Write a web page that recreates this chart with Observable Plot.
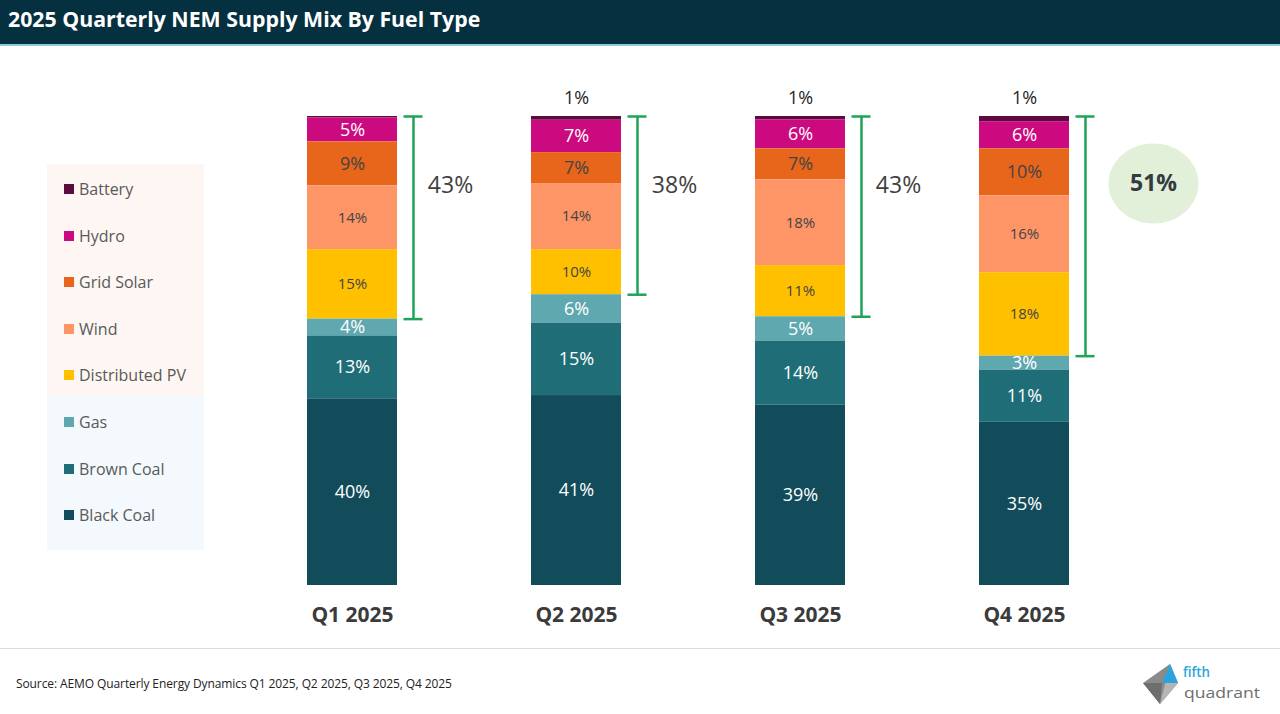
<!DOCTYPE html>
<html>
<head>
<meta charset="utf-8">
<script src="https://cdn.jsdelivr.net/npm/d3@7"></script>
<script src="https://cdn.jsdelivr.net/npm/@observablehq/plot@0.6"></script>
<style>
  body { margin: 0; background: #fff; font-family: "Open Sans", sans-serif; }
  #page { position: relative; width: 1280px; height: 714px; overflow: hidden; background: #fff; }
  #titlebar { position: absolute; left: 0; top: 0; width: 1280px; height: 44px; background: #05303f; border-bottom: 2px solid #8ccbdc; }
  #titlebar h1 { margin: 0; position: absolute; left: 8px; top: 5px; font-size: 21.3px; line-height: 28px; font-weight: 700; color: #fff; letter-spacing: 0; }
  #chart { position: absolute; left: 0; top: 46px; }
  #legend { position: absolute; left: 47px; top: 164px; width: 157px; height: 386px; }
  #legend .bgTop { position: absolute; left: 0; top: 0; width: 157px; height: 232px; background: #fdf6f3; }
  #legend .bgBottom { position: absolute; left: 0; top: 232px; width: 157px; height: 154px; background: #f4f9fd; }
  #legend .item { position: absolute; left: 17px; height: 20px; display: flex; align-items: center; font-size: 16px; color: #595959; white-space: nowrap; }
  #legend .sw { width: 10px; height: 10px; margin-right: 5px; flex: none; }
  #footerline { position: absolute; left: 0; top: 648px; width: 1280px; height: 1px; background: #dcdcdc; }
  #source { position: absolute; left: 16px; top: 675px; font-size: 12px; color: #222; letter-spacing: -0.1px; }
  #logo { position: absolute; left: 1140px; top: 660px; }
  #chart svg [aria-label="x-axis tick label"] text { font-weight: 700; }
</style>
</head>
<body>
<div id="page">
  <div id="titlebar"><h1>2025 Quarterly NEM Supply Mix By Fuel Type</h1></div>
  <div id="chart"></div>
  <div id="legend"><div class="bgTop"></div><div class="bgBottom"></div></div>
  <div id="footerline"></div>
  <div id="source">Source: AEMO Quarterly Energy Dynamics Q1 2025, Q2 2025, Q3 2025, Q4 2025</div>
  <svg id="logo" width="125" height="50" viewBox="0 0 125 50">
    <polygon points="30,4 38,23 20,44 3,23" fill="#8a8a8a"/>
    <polygon points="30,4 38,23 20,44" fill="#b5b5b5"/>
    <polygon points="30,4 38,23 22,23" fill="#2aa4dc"/>
    <polygon points="3,23 22,23 20,44" fill="#6e6e6e"/>
    <text x="43" y="17" font-family="Open Sans" font-size="15" font-weight="600" fill="#2aa4dc" textLength="27" lengthAdjust="spacingAndGlyphs">fifth</text>
    <text x="44" y="38" font-family="Open Sans" font-size="15" fill="#6d6d6d" textLength="76" lengthAdjust="spacingAndGlyphs">quadrant</text>
  </svg>
</div>
<script>
// ---- data (shares of NEM supply, %) ----
const quarters = ["Q1 2025", "Q2 2025", "Q3 2025", "Q4 2025"];
const fuels = ["Battery", "Hydro", "Grid Solar", "Wind", "Distributed PV", "Gas", "Brown Coal", "Black Coal"];
const fuelColors = ["#5c0b3e", "#cc0a80", "#e8661b", "#fd9567", "#ffc000", "#60a8b0", "#1f6e77", "#124c5b"];
const renewableFuels = ["Battery", "Hydro", "Grid Solar", "Wind", "Distributed PV"];
const highlightQuarter = "Q4 2025";

const battery       = [0.3, 0.8, 0.7, 1.1];
const hydro         = [5.1, 6.9, 6.2, 5.8];
const gridSolar     = [9.4, 6.6, 6.6, 10.0];
const wind          = [13.6, 14.1, 18.3, 16.4];
const distributedPV = [14.8, 9.6, 10.9, 17.8];
const gas           = [3.6, 6.1, 5.2, 3.0];
const brownCoal     = [13.4, 15.4, 13.6, 11.1];
const blackCoal     = [39.8, 40.5, 38.5, 34.8];

const seriesByFuel = {
  "Battery": battery, "Hydro": hydro, "Grid Solar": gridSolar, "Wind": wind,
  "Distributed PV": distributedPV, "Gas": gas, "Brown Coal": brownCoal, "Black Coal": blackCoal
};

const data = fuels.flatMap(f => quarters.map((q, i) => ({quarter: q, fuel: f, value: seriesByFuel[f][i]})));
const stackOrder = fuels.slice().reverse();
const pct = v => `${Math.round(v)}%`;

const brackets = quarters.map((q, i) => {
  const total = d3.sum(fuels, f => seriesByFuel[f][i]);
  const share = d3.sum(renewableFuels, f => seriesByFuel[f][i]);
  return {quarter: q, top: total, base: total - share, share, highlight: q === highlightQuarter};
});

const whiteLarge = new Set(["Hydro", "Gas", "Brown Coal", "Black Coal"]);
const darkLarge = new Set(["Grid Solar"]);
const darkSmall = new Set(["Wind", "Distributed PV"]);

const segLabel = (set, fontSize, fill) => Plot.text(data, Plot.stackY({
  x: "quarter", y: "value", z: "fuel", order: stackOrder,
  text: d => set.has(d.fuel) ? pct(d.value) : "",
  fontSize, fill
}));

const ellipse = {
  draw(ctx) {
    const a = 45, b = 40, k = 0.5523;
    ctx.moveTo(a, 0);
    ctx.bezierCurveTo(a, b * k, a * k, b, 0, b);
    ctx.bezierCurveTo(-a * k, b, -a, b * k, -a, 0);
    ctx.bezierCurveTo(-a, -b * k, -a * k, -b, 0, -b);
    ctx.bezierCurveTo(a * k, -b, a, -b * k, a, 0);
    ctx.closePath();
  }
};

const green = "#1fa35a";

const chart = Plot.plot({
  width: 1280,
  height: 600,
  marginTop: 70,
  marginBottom: 61,
  marginLeft: 0,
  marginRight: 0,
  style: {fontFamily: "Open Sans", background: "transparent", color: "#3b3b3b", overflow: "visible"},
  x: {type: "band", domain: quarters, range: [240, 1136], paddingInner: 0.598, paddingOuter: 0.299, align: 0.5},
  y: {domain: [0, 100], axis: null},
  color: {domain: fuels, range: fuelColors},
  marks: [
    Plot.barY(data, {x: "quarter", y: "value", z: "fuel", fill: "fuel", order: stackOrder}),
    segLabel(whiteLarge, 18, "#ffffff"),
    segLabel(darkLarge, 18, "#444444"),
    segLabel(darkSmall, 15, "#444444"),
    Plot.text(data, Plot.stackY2({
      x: "quarter", y: "value", z: "fuel", order: stackOrder,
      text: d => d.fuel === "Battery" && Math.round(d.value) >= 1 ? pct(d.value) : "",
      fontSize: 18, fill: "#262626", dy: -18
    })),
    Plot.ruleX(brackets, {x: "quarter", y1: "base", y2: "top", stroke: green, strokeWidth: 2.5, dx: 61}),
    Plot.tickY(brackets, {x: "quarter", y: "base", stroke: green, strokeWidth: 2.5, dx: 61, insetLeft: 35.5, insetRight: 35.5}),
    Plot.tickY(brackets, {x: "quarter", y: "top", stroke: green, strokeWidth: 2.5, dx: 61, insetLeft: 35.5, insetRight: 35.5}),
    Plot.text(brackets, {x: "quarter", y: "top", text: d => d.highlight ? "" : pct(d.share), dx: 98, dy: 69, fontSize: 23, fill: "#404040"}),
    Plot.dot(brackets, {x: "quarter", y: "top", filter: d => d.highlight, symbol: ellipse, r: 10, fill: "#e2efd9", stroke: "none", dx: 129, dy: 67}),
    Plot.text(brackets, {x: "quarter", y: "top", filter: d => d.highlight, text: d => pct(d.share), dx: 129, dy: 67, fontSize: 23, fontWeight: 700, fill: "#333a40"}),
    Plot.axisX({tickSize: 0, tickPadding: 22, fontSize: 21, fontWeight: 700, label: null})
  ]
});
document.getElementById("chart").appendChild(chart);

// legend built from the same fuel / colour arrays
const legend = document.getElementById("legend");
fuels.forEach((f, i) => {
  const item = document.createElement("div");
  item.className = "item";
  item.style.top = (25 + i * 46.6 - 10) + "px";
  const sw = document.createElement("span");
  sw.className = "sw";
  sw.style.background = fuelColors[i];
  item.appendChild(sw);
  item.appendChild(document.createTextNode(f));
  legend.appendChild(item);
});
</script>
</body>
</html>
